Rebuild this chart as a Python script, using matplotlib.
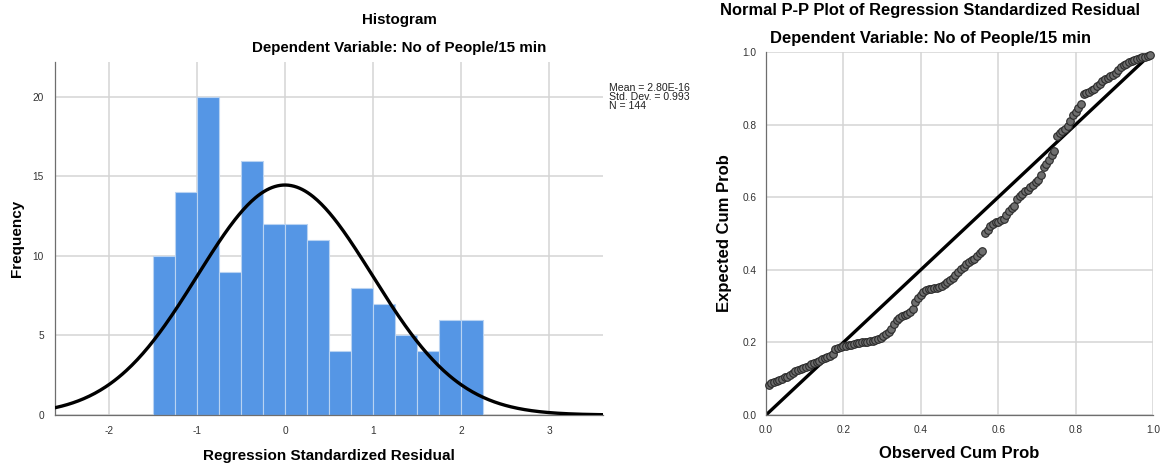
import numpy as np
import matplotlib
matplotlib.use("Agg")
import matplotlib.pyplot as plt

plt.rcParams['font.family'] = ['Liberation Sans', 'DejaVu Sans']

# ---------------- data ----------------
bin_edges = [-1.5, -1.25, -1.0, -0.75, -0.5, -0.25, 0.0, 0.25, 0.5, 0.75,
             1.0, 1.25, 1.5, 1.75, 2.0, 2.25]
bin_counts = [10, 14, 20, 9, 16, 12, 12, 11, 4, 8, 7, 5, 4, 6, 6]
res_mean = 2.80e-16
res_sd = 0.993
res_n = 144
hist_xticks = [-2, -1, 0, 1, 2, 3]
hist_yticks = [0, 5, 10, 15, 20]

# Expected cumulative probability of each (sorted) residual
expected_cum_prob = [
    0.084, 0.089, 0.092, 0.094, 0.097, 0.100, 0.104, 0.106, 0.110, 0.115,
    0.121, 0.124, 0.127, 0.130, 0.133, 0.136, 0.140, 0.143, 0.146, 0.149,
    0.153, 0.156, 0.159, 0.163, 0.167, 0.182, 0.185, 0.187, 0.189, 0.191,
    0.192, 0.194, 0.196, 0.197, 0.199, 0.200, 0.201, 0.202, 0.203, 0.205,
    0.206, 0.209, 0.212, 0.218, 0.224, 0.230, 0.238, 0.252, 0.262, 0.267,
    0.272, 0.276, 0.279, 0.283, 0.292, 0.312, 0.322, 0.330, 0.340, 0.345,
    0.347, 0.348, 0.350, 0.351, 0.352, 0.355, 0.360, 0.367, 0.372, 0.378,
    0.385, 0.395, 0.403, 0.409, 0.416, 0.421, 0.426, 0.431, 0.437, 0.445,
    0.452, 0.502, 0.509, 0.520, 0.527, 0.531, 0.533, 0.536, 0.541, 0.552,
    0.562, 0.570, 0.577, 0.596, 0.604, 0.610, 0.616, 0.621, 0.627, 0.633,
    0.641, 0.648, 0.660, 0.682, 0.692, 0.702, 0.715, 0.727, 0.768, 0.776,
    0.781, 0.788, 0.796, 0.811, 0.826, 0.836, 0.847, 0.857, 0.884, 0.888,
    0.891, 0.894, 0.898, 0.905, 0.913, 0.920, 0.925, 0.929, 0.933, 0.937,
    0.942, 0.950, 0.958, 0.964, 0.968, 0.972, 0.976, 0.979, 0.981, 0.983,
    0.985, 0.987, 0.989, 0.992,
]
pp_ticks = [0.0, 0.2, 0.4, 0.6, 0.8, 1.0]

# ---------------- figure ----------------
W, H = 1161, 465
fig = plt.figure(figsize=(W / 100, H / 100), dpi=100)

grid_c = '#d4d4d4'
tick_c = '#333333'
spine_c = '#6e6e6e'

# Histogram
ax1 = fig.add_axes([55 / W, 1 - 415 / H, 548 / W, 353 / H])
widths = np.diff(bin_edges)
ax1.bar(bin_edges[:-1], bin_counts, width=widths, align='edge',
        color='#5596e5', edgecolor='#b9d3f2', linewidth=0.8, zorder=2)
xs = np.linspace(-2.61, 3.61, 400)
bw = widths[0]
curve = res_n * bw * np.exp(-0.5 * ((xs - res_mean) / res_sd) ** 2) / (res_sd * np.sqrt(2 * np.pi))
ax1.plot(xs, curve, color='black', lw=2.4, zorder=3)
ax1.set_xlim(-2.61, 3.61)
ax1.set_ylim(0, 22.2)
ax1.set_xticks(hist_xticks)
ax1.set_xticklabels([str(t) for t in hist_xticks])
ax1.set_yticks(hist_yticks)
ax1.grid(True, color=grid_c, lw=1.1, zorder=0)
ax1.set_axisbelow(True)
for s in ['top', 'right']:
    ax1.spines[s].set_visible(False)
for s in ['left', 'bottom']:
    ax1.spines[s].set_color(spine_c)
    ax1.spines[s].set_linewidth(0.9)
ax1.tick_params(length=0, labelsize=7.3, colors=tick_c, pad=8)
ax1.set_xlabel('Regression Standardized Residual', fontsize=11,
               fontweight='bold', labelpad=9)
ax1.set_ylabel('Frequency', fontsize=11, fontweight='bold', labelpad=6)

fig.text(399 / W, 1 - 20 / H, 'Histogram', ha='center', va='center',
         fontsize=10.9, fontweight='bold')
fig.text(399 / W, 1 - 48 / H, 'Dependent Variable: No of People/15 min',
         ha='center', va='center', fontsize=10.9, fontweight='bold')
fig.text(609 / W, 1 - 97 / H,
         'Mean = 2.80E-16\nStd. Dev. = 0.993\nN = 144',
         ha='left', va='center', fontsize=7.6, linespacing=0.93, color='#222222')

# P-P plot
ax2 = fig.add_axes([766 / W, 1 - 415 / H, 387 / W, 363 / H])
n = len(expected_cum_prob)
observed_cum_prob = np.arange(1, n + 1) / (n + 1)
ax2.plot([0, 1], [0, 1], color='black', lw=2.4, zorder=2)
ax2.scatter(observed_cum_prob, expected_cum_prob, s=30, facecolor='#6e6e6e',
            edgecolor='#2a2a2a', linewidth=0.8, zorder=3, clip_on=False)
ax2.set_xlim(0, 1)
ax2.set_ylim(0, 1)
ax2.set_xticks(pp_ticks)
ax2.set_yticks(pp_ticks)
ax2.set_xticklabels([f'{t:.1f}' for t in pp_ticks])
ax2.set_yticklabels([f'{t:.1f}' for t in pp_ticks])
ax2.grid(True, color=grid_c, lw=1.1, zorder=0)
ax2.set_axisbelow(True)
for s in ['top', 'right']:
    ax2.spines[s].set_visible(False)
for s in ['left', 'bottom']:
    ax2.spines[s].set_color(spine_c)
    ax2.spines[s].set_linewidth(0.9)
ax2.tick_params(length=0, labelsize=7.3, colors=tick_c, pad=7)
ax2.set_xlabel('Observed Cum Prob', fontsize=12, fontweight='bold', labelpad=8)
ax2.set_ylabel('Expected Cum Prob', fontsize=12, fontweight='bold', labelpad=7)

fig.text(930 / W, 1 - 10 / H, 'Normal P-P Plot of Regression Standardized Residual',
         ha='center', va='center', fontsize=11.9, fontweight='bold')
fig.text(930 / W, 1 - 38 / H, 'Dependent Variable: No of People/15 min',
         ha='center', va='center', fontsize=11.9, fontweight='bold')

fig.savefig('out.png', dpi=100)
